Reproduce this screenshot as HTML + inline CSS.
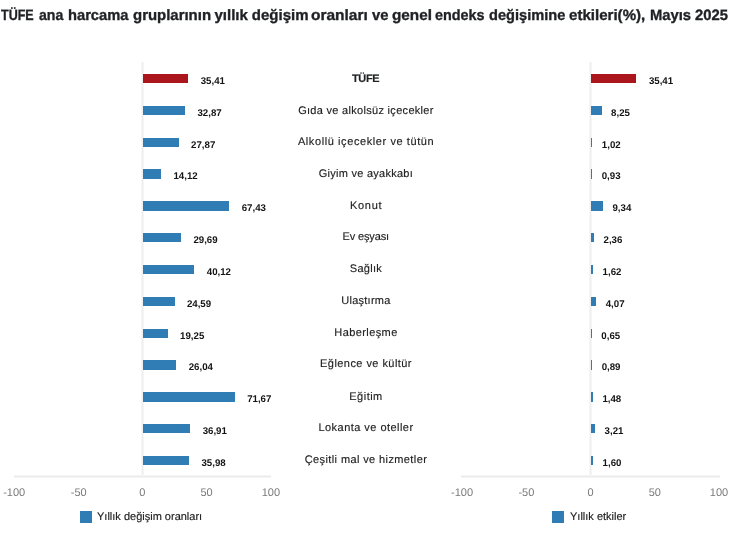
<!DOCTYPE html>
<html><head><meta charset="utf-8"><style>
html,body{margin:0;padding:0;background:#fff;}
body{width:750px;height:535px;position:relative;overflow:hidden;font-family:"Liberation Sans",sans-serif;text-rendering:geometricPrecision;}
#w{position:absolute;left:0;top:0;width:750px;height:535px;will-change:transform;}
.title{position:absolute;top:6px;font-size:15px;font-weight:bold;color:#1f2124;-webkit-text-stroke:0.35px #1f2124;white-space:nowrap;line-height:20px;transform-origin:0 0;}
.vline{position:absolute;top:62px;height:414px;width:3px;margin-left:-1px;background:linear-gradient(to right,#fafafa,#eeeeee,#fafafa);}
.hline{position:absolute;top:475px;height:3px;background:linear-gradient(#fafafa,#ebebeb,#fafafa);}
.bar{position:absolute;height:9.3px;}
.val{position:absolute;font-size:9.7px;font-weight:bold;color:#141414;white-space:nowrap;line-height:12px;}
.tick{position:absolute;top:486.2px;width:40px;text-align:center;font-size:11px;color:#7a7a7a;line-height:14px;}
.lsq{position:absolute;top:511px;width:12px;height:12px;background:#307DB6;}
.ltx{position:absolute;top:510px;font-size:11px;color:#222;-webkit-text-stroke:0.15px #222;white-space:nowrap;line-height:14px;}
.cat{position:absolute;width:200px;text-align:center;font-size:11px;color:#1e1e1e;-webkit-text-stroke:0.15px #1e1e1e;white-space:nowrap;line-height:14px;}
.cat.b{font-weight:bold;color:#1f2124;}
</style></head><body><div id="w">
<div class="title" style="left:1.20px;transform:scaleX(0.8359)">TÜFE</div>
<div class="title" style="left:38.80px;transform:scaleX(0.9385)">ana</div>
<div class="title" style="left:67.52px;transform:scaleX(0.9787)">harcama</div>
<div class="title" style="left:132.80px;transform:scaleX(0.9961)">gruplarının</div>
<div class="title" style="left:214.50px;transform:scaleX(1.0000)">yıllık</div>
<div class="title" style="left:251.80px;transform:scaleX(1.0000)">değişim</div>
<div class="title" style="left:311.47px;transform:scaleX(1.0321)">oranları</div>
<div class="title" style="left:372.20px;transform:scaleX(0.9875)">ve</div>
<div class="title" style="left:391.78px;transform:scaleX(1.0189)">genel</div>
<div class="title" style="left:435.04px;transform:scaleX(0.9600)">endeks</div>
<div class="title" style="left:488.53px;transform:scaleX(0.9740)">değişimine</div>
<div class="title" style="left:569.39px;transform:scaleX(1.0054)">etkileri(%),</div>
<div class="title" style="left:650.01px;transform:scaleX(0.9850)">Mayıs</div>
<div class="title" style="left:695.40px;transform:scaleX(0.9879)">2025</div>
<div class="vline" style="left:142px"></div>
<div class="hline" style="left:14px;width:257px"></div>
<div class="bar" style="left:143px;top:74.00px;width:45.42px;background:#AA161C"></div>
<div class="val" style="left:200.72px;top:76px">35,41</div>
<div class="bar" style="left:143px;top:105.83px;width:42.17px;background:#307DB6"></div>
<div class="val" style="left:197.47px;top:108px">32,87</div>
<div class="bar" style="left:143px;top:137.66px;width:35.77px;background:#307DB6"></div>
<div class="val" style="left:191.07px;top:140px">27,87</div>
<div class="bar" style="left:143px;top:169.49px;width:18.17px;background:#307DB6"></div>
<div class="val" style="left:173.47px;top:171px">14,12</div>
<div class="bar" style="left:143px;top:201.32px;width:86.41px;background:#307DB6"></div>
<div class="val" style="left:241.71px;top:203px">67,43</div>
<div class="bar" style="left:143px;top:233.15px;width:38.10px;background:#307DB6"></div>
<div class="val" style="left:193.40px;top:235px">29,69</div>
<div class="bar" style="left:143px;top:264.98px;width:51.45px;background:#307DB6"></div>
<div class="val" style="left:206.75px;top:267px">40,12</div>
<div class="bar" style="left:143px;top:296.81px;width:31.58px;background:#307DB6"></div>
<div class="val" style="left:186.88px;top:299px">24,59</div>
<div class="bar" style="left:143px;top:328.64px;width:24.74px;background:#307DB6"></div>
<div class="val" style="left:180.04px;top:331px">19,25</div>
<div class="bar" style="left:143px;top:360.47px;width:33.43px;background:#307DB6"></div>
<div class="val" style="left:188.73px;top:362px">26,04</div>
<div class="bar" style="left:143px;top:392.30px;width:91.84px;background:#307DB6"></div>
<div class="val" style="left:247.14px;top:394px">71,67</div>
<div class="bar" style="left:143px;top:424.13px;width:47.34px;background:#307DB6"></div>
<div class="val" style="left:202.64px;top:426px">36,91</div>
<div class="bar" style="left:143px;top:455.96px;width:46.15px;background:#307DB6"></div>
<div class="val" style="left:201.45px;top:458px">35,98</div>
<div class="tick" style="left:-5.800000000000001px">-100</div>
<div class="tick" style="left:58.8px">-50</div>
<div class="tick" style="left:122.4px">0</div>
<div class="tick" style="left:186.5px">50</div>
<div class="tick" style="left:250.89999999999998px">100</div>
<div class="lsq" style="left:80px"></div>
<div class="ltx" style="left:97px">Yıllık değişim oranları</div>
<div class="vline" style="left:590px"></div>
<div class="hline" style="left:461px;width:259px"></div>
<div class="bar" style="left:591px;top:74.00px;width:45.42px;background:#AA161C"></div>
<div class="val" style="left:648.92px;top:76px">35,41</div>
<div class="bar" style="left:591px;top:105.83px;width:10.66px;background:#307DB6"></div>
<div class="val" style="left:611.06px;top:108px">8,25</div>
<div class="bar" style="left:591px;top:137.66px;width:1.41px;background:#307DB6"></div>
<div class="val" style="left:601.81px;top:140px">1,02</div>
<div class="bar" style="left:591px;top:169.49px;width:1.29px;background:#307DB6"></div>
<div class="val" style="left:601.69px;top:171px">0,93</div>
<div class="bar" style="left:591px;top:201.32px;width:12.06px;background:#307DB6"></div>
<div class="val" style="left:612.46px;top:203px">9,34</div>
<div class="bar" style="left:591px;top:233.15px;width:3.12px;background:#307DB6"></div>
<div class="val" style="left:603.52px;top:235px">2,36</div>
<div class="bar" style="left:591px;top:264.98px;width:2.17px;background:#307DB6"></div>
<div class="val" style="left:602.57px;top:267px">1,62</div>
<div class="bar" style="left:591px;top:296.81px;width:5.31px;background:#307DB6"></div>
<div class="val" style="left:605.71px;top:299px">4,07</div>
<div class="bar" style="left:591px;top:328.64px;width:0.93px;background:#307DB6"></div>
<div class="val" style="left:601.33px;top:331px">0,65</div>
<div class="bar" style="left:591px;top:360.47px;width:1.24px;background:#307DB6"></div>
<div class="val" style="left:601.64px;top:362px">0,89</div>
<div class="bar" style="left:591px;top:392.30px;width:1.99px;background:#307DB6"></div>
<div class="val" style="left:602.39px;top:394px">1,48</div>
<div class="bar" style="left:591px;top:424.13px;width:4.21px;background:#307DB6"></div>
<div class="val" style="left:604.61px;top:426px">3,21</div>
<div class="bar" style="left:591px;top:455.96px;width:2.15px;background:#307DB6"></div>
<div class="val" style="left:602.55px;top:458px">1,60</div>
<div class="tick" style="left:442px">-100</div>
<div class="tick" style="left:506.4px">-50</div>
<div class="tick" style="left:570.5px">0</div>
<div class="tick" style="left:634.8px">50</div>
<div class="tick" style="left:699px">100</div>
<div class="lsq" style="left:552px"></div>
<div class="ltx" style="left:570px">Yıllık etkiler</div>
<div class="cat b" style="left:265.62px;top:72px;letter-spacing:-0.37px">TÜFE</div>
<div class="cat" style="left:265.95px;top:104px;letter-spacing:0.3px">Gıda ve alkolsüz içecekler</div>
<div class="cat" style="left:266.10px;top:135px;letter-spacing:0.59px">Alkollü içecekler ve tütün</div>
<div class="cat" style="left:265.93px;top:167px;letter-spacing:0.26px">Giyim ve ayakkabı</div>
<div class="cat" style="left:266.12px;top:199px;letter-spacing:0.65px">Konut</div>
<div class="cat" style="left:265.73px;top:230px;letter-spacing:-0.15px">Ev eşyası</div>
<div class="cat" style="left:265.94px;top:262px;letter-spacing:0.28px">Sağlık</div>
<div class="cat" style="left:265.93px;top:294px;letter-spacing:0.26px">Ulaştırma</div>
<div class="cat" style="left:266.00px;top:326px;letter-spacing:0.41px">Haberleşme</div>
<div class="cat" style="left:266.02px;top:357px;letter-spacing:0.44px">Eğlence ve kültür</div>
<div class="cat" style="left:266.04px;top:390px;letter-spacing:0.48px">Eğitim</div>
<div class="cat" style="left:266.03px;top:421px;letter-spacing:0.46px">Lokanta ve oteller</div>
<div class="cat" style="left:266.00px;top:453px;letter-spacing:0.39px">Çeşitli mal ve hizmetler</div>
</div></body></html>
